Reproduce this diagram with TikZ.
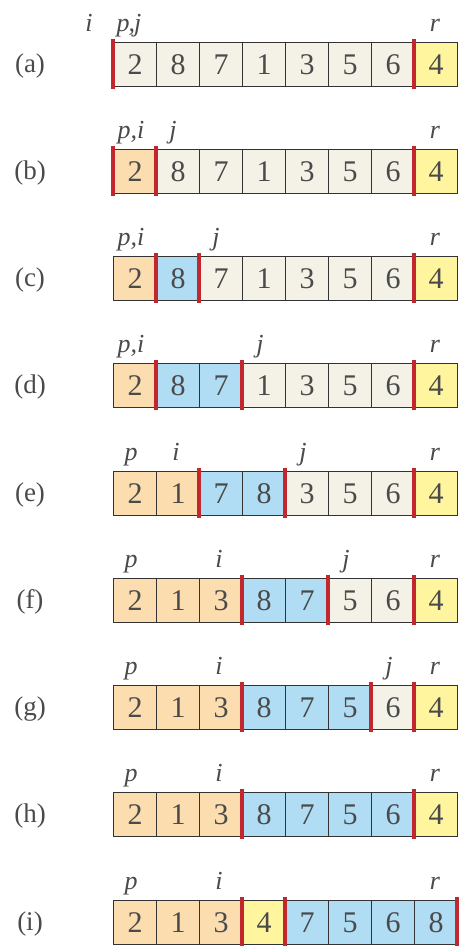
\documentclass[tikz,border=0pt]{standalone}
\usepackage{fontspec}
\setmainfont{Liberation Serif}
\definecolor{cg}{HTML}{F4F2E6}
\definecolor{co}{HTML}{FCDDB0}
\definecolor{cb}{HTML}{B0DCF4}
\definecolor{cy}{HTML}{FEF59E}
\definecolor{barcol}{HTML}{C1272D}
\definecolor{edgecol}{HTML}{333333}
\definecolor{txtcol}{HTML}{4A4A4A}
\tikzset{
  cell/.style={draw=edgecol, line width=1.2pt, minimum width=43pt, minimum height=44pt,
    inner sep=0pt, anchor=north west, text=txtcol, font=\fontsize{30}{30}\selectfont},
  redbar/.style={draw=barcol, line width=4.3pt},
  toplab/.style={font=\fontsize{26}{26}\selectfont\itshape, text=txtcol, inner sep=0pt},
  rowlab/.style={font=\fontsize{27}{27}\selectfont, text=txtcol, inner sep=0pt}
}
\newcommand\arrrow[3]{%
  \foreach \v/\c [count=\n] in {#3} {
    \node[cell, fill=c\c] (#1\n) at ({113+43*(\n-1)}, #2) {\v};
  }
  \node[rowlab] (lab#1) at (30, {#2+24}) {(#1)};
}
\newcommand\redbars[2]{%
  \foreach \p in {#2} {
    \draw[redbar] ({113+43*\p}, {#1-3}) -- ({113+43*\p}, {#1+47});
  }
}
\newcommand\toplabel[4]{% name, top, x, text
  \node[toplab, anchor=base] (#1) at (#3, {#2-11}) {#4};
}
\begin{document}
\begin{tikzpicture}[x=1pt,y=-1pt]
\useasboundingbox (0,0) rectangle (459,946);
% (a)
\arrrow{a}{42}{2/g,8/g,7/g,1/g,3/g,5/g,6/g,4/y}
\redbars{42}{0,7}
\toplabel{ai}{42}{89}{i}
\toplabel{apj}{42}{129}{p\kern-1pt,\kern-1pt j}
\toplabel{ar}{42}{435}{r}
% (b)
\arrrow{b}{149}{2/o,8/g,7/g,1/g,3/g,5/g,6/g,4/y}
\redbars{149}{0,1,7}
\toplabel{bpi}{149}{131}{p,i}
\toplabel{bj}{149}{173}{j}
\toplabel{br}{149}{435}{r}
% (c)
\arrrow{c}{256}{2/o,8/b,7/g,1/g,3/g,5/g,6/g,4/y}
\redbars{256}{1,2,7}
\toplabel{cpi}{256}{131}{p,i}
\toplabel{cj}{256}{216}{j}
\toplabel{cr}{256}{435}{r}
% (d)
\arrrow{d}{363}{2/o,8/b,7/b,1/g,3/g,5/g,6/g,4/y}
\redbars{363}{1,3,7}
\toplabel{dpi}{363}{131}{p,i}
\toplabel{dj}{363}{260}{j}
\toplabel{dr}{363}{435}{r}
% (e)
\arrrow{e}{471}{2/o,1/o,7/b,8/b,3/g,5/g,6/g,4/y}
\redbars{471}{2,4,7}
\toplabel{ep}{471}{131}{p}
\toplabel{ei}{471}{176}{i}
\toplabel{ej}{471}{303}{j}
\toplabel{er}{471}{435}{r}
% (f)
\arrrow{f}{578}{2/o,1/o,3/o,8/b,7/b,5/g,6/g,4/y}
\redbars{578}{3,5,7}
\toplabel{fp}{578}{131}{p}
\toplabel{fi}{578}{219}{i}
\toplabel{fj}{578}{346}{j}
\toplabel{fr}{578}{435}{r}
% (g)
\arrrow{g}{685}{2/o,1/o,3/o,8/b,7/b,5/b,6/g,4/y}
\redbars{685}{3,6,7}
\toplabel{gp}{685}{131}{p}
\toplabel{gi}{685}{219}{i}
\toplabel{gj}{685}{389}{j}
\toplabel{gr}{685}{435}{r}
% (h)
\arrrow{h}{792}{2/o,1/o,3/o,8/b,7/b,5/b,6/b,4/y}
\redbars{792}{3,7}
\toplabel{hp}{792}{131}{p}
\toplabel{hi}{792}{219}{i}
\toplabel{hr}{792}{435}{r}
% (i)
\arrrow{i}{900}{2/o,1/o,3/o,4/y,7/b,5/b,6/b,8/b}
\redbars{900}{3,4,8}
\toplabel{ip}{900}{131}{p}
\toplabel{ii}{900}{219}{i}
\toplabel{ir}{900}{435}{r}
\end{tikzpicture}
\end{document}
